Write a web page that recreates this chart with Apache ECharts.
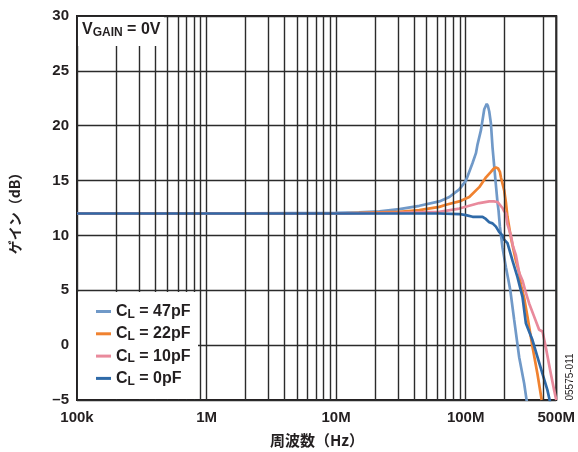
<!DOCTYPE html>
<html>
<head>
<meta charset="utf-8">
<script src="https://cdn.jsdelivr.net/npm/echarts@6/dist/echarts.min.js"></script>
<style>
  html, body { margin: 0; padding: 0; background: #fff; }
  #chart { width: 578px; height: 452px; }
</style>
</head>
<body>
<div id="chart"></div>
<script>
// Frequency axis ticks (Hz) and their labels
const freqTicks = [1e5, 1e6, 1e7, 1e8, 5e8];
const freqTickLabels = ['100k', '1M', '10M', '100M', '500M'];
// Intermediate vertical grid lines (Hz)
const minorGridFreqs = [
  2e5, 3e5, 4e5, 5e5, 6e5, 7e5, 8e5, 9e5,
  2e6, 3e6, 4e6, 5e6, 6e6, 7e6, 8e6, 9e6,
  2e7, 3e7, 4e7, 5e7, 6e7, 7e7, 8e7, 9e7,
  2e8, 4e8
];
// Gain axis range (dB)
const gainMin = -5, gainMax = 30, gainStep = 5;

// Load capacitances (legend entries)
const loads = ['47pF', '22pF', '10pF', '0pF'];
const loadColors = ['#7099c8', '#f08230', '#e98a9c', '#2f6aa8'];

// C_L = 47pF
const freq47 = [1e5, 1e6, 1e7, 1.5e7, 21.6e6, 30.8e6, 43.9e6, 62.6e6, 74.8e6, 89.3e6, 100.5e6, 106.6e6, 113e6, 120e6, 123.5e6, 131.2e6, 139.1e6, 145.4e6, 148.5e6, 152e6, 156.6e6, 161.2e6, 169e6, 176.1e6, 179.2e6, 183.7e6, 192.4e6, 204.4e6, 214e6, 221e6, 236.8e6, 258.8e6, 282.8e6, 296e6];
const gain47 = [12.0, 12.0, 12.05, 12.1, 12.2, 12.4, 12.7, 13.1, 13.5, 14.2, 15.0, 15.8, 16.6, 17.5, 18.3, 19.6, 21.5, 22.0, 21.8, 21.3, 20.2, 18.0, 15.3, 13.0, 12.3, 10.8, 8.9, 7.1, 5.9, 5.0, 2.3, -1.1, -3.5, -5.1];

// C_L = 22pF
const freq22 = [1e5, 1e6, 1e7, 21.6e6, 30.8e6, 43.9e6, 62.6e6, 70.5e6, 89.3e6, 106.6e6, 127.3e6, 143.4e6, 156.6e6, 165e6, 171e6, 174e6, 178e6, 183.7e6, 187e6, 198.3e6, 204.4e6, 210.2e6, 223.4e6, 244.1e6, 258.8e6, 266.7e6, 282.8e6, 299.9e6, 327.7e6, 357.9e6, 386e6];
const gain22 = [12.0, 12.0, 12.0, 12.1, 12.15, 12.3, 12.6, 12.8, 13.1, 13.5, 14.4, 15.3, 15.8, 16.1, 16.2, 16.25, 16.1, 15.8, 15.3, 14.1, 13.0, 11.7, 9.8, 7.7, 6.6, 5.5, 4.3, 2.6, -0.15, -2.6, -5.0];

// C_L = 10pF
const freq10 = [1e5, 1e6, 1e7, 30e6, 62.6e6, 89.3e6, 106.6e6, 127.3e6, 152e6, 165e6, 176e6, 181.5e6, 192.4e6, 198.3e6, 204.4e6, 210.2e6, 223.4e6, 232e6, 244.1e6, 258.8e6, 274.4e6, 287.8e6, 309e6, 337.7e6, 369e6, 378e6, 392e6, 403.3e6, 420.2e6, 454.2e6, 481.6e6, 500e6];
const gain10 = [12.0, 12.0, 12.0, 12.05, 12.15, 12.45, 12.7, 12.95, 13.1, 13.1, 13.05, 12.9, 12.5, 12.2, 12.0, 11.0, 10.0, 9.0, 8.2, 6.6, 5.9, 5.0, 3.8, 2.6, 1.4, 1.3, 1.25, 1.1, -0.5, -2.6, -4.1, -5.0];

// C_L = 0pF
const freq0 = [1e5, 1e6, 1e7, 30e6, 62.6e6, 89.3e6, 100.5e6, 113e6, 134.9e6, 143e6, 152e6, 161.2e6, 171.2e6, 181.5e6, 192.4e6, 198.3e6, 210.2e6, 229.8e6, 251.1e6, 274.4e6, 291.4e6, 327.7e6, 357.9e6, 391.3e6, 427.6e6, 440.7e6, 450e6];
const gain0 = [12.0, 12.0, 12.0, 12.0, 12.0, 11.95, 11.85, 11.7, 11.7, 11.5, 11.2, 11.1, 10.8, 10.3, 10.0, 9.6, 9.3, 7.7, 6.2, 4.4, 2.0, 0.46, -1.07, -2.6, -4.1, -4.8, -5.3];

const seriesFreqs = [freq47, freq22, freq10, freq0];
const seriesGains = [gain47, gain22, gain10, gain0];

const gridColor = '#2b2b2b';
const textColor = '#231f20';
const latin = 'Liberation Sans, Arial, Helvetica, sans-serif';
const cjk = '"Noto Sans CJK JP", "Noto Sans CJK SC", sans-serif';

const chart = echarts.init(document.getElementById('chart'), null, { renderer: 'canvas' });

function tickLabel(v) {
  for (let i = 0; i < freqTicks.length; i++) {
    if (Math.abs(Math.log10(v) - Math.log10(freqTicks[i])) < 0.01) return freqTickLabels[i];
  }
  return '';
}

const names = loads.map(l => 'CL = ' + l);

const curveSeries = names.map((name, i) => ({
  name: name,
  type: 'line',
  showSymbol: false,
  symbol: 'none',
  clip: true,
  z: 3,
  lineStyle: { color: loadColors[i], width: 2.7 },
  itemStyle: { color: loadColors[i] },
  data: seriesFreqs[i].map((f, k) => [f, seriesGains[i][k]])
}));

const option = {
  animation: false,
  backgroundColor: '#fff',
  grid: {
    left: 77, right: 21, top: 16, bottom: 52,
    show: true, borderColor: textColor, borderWidth: 2, backgroundColor: '#fff'
  },
  xAxis: {
    type: 'log',
    logBase: 10,
    min: freqTicks[0],
    max: freqTicks[freqTicks.length - 1],
    axisLine: { show: false },
    axisTick: { show: false },
    splitLine: { show: true, lineStyle: { color: gridColor, width: 1.4 } },
    axisLabel: {
      formatter: tickLabel,
      showMinLabel: true, showMaxLabel: true,
      margin: 10,
      color: textColor, fontFamily: latin, fontWeight: 'bold', fontSize: 15
    }
  },
  yAxis: {
    type: 'value',
    min: gainMin, max: gainMax, interval: gainStep,
    axisLine: { show: false },
    axisTick: { show: false },
    splitLine: { show: true, lineStyle: { color: gridColor, width: 1.4 } },
    axisLabel: {
      margin: 8,
      formatter: v => String(v).replace('-', '\u2013'),
      color: textColor, fontFamily: latin, fontWeight: 'bold', fontSize: 15
    }
  },
  legend: {
    data: names,
    orient: 'vertical',
    left: 78, top: 292,
    z: 300,
    padding: [11.5, 4, 8, 18],
    itemGap: 5.3,
    itemWidth: 15, itemHeight: 3,
    icon: 'rect',
    selectedMode: false,
    formatter: function (name) {
      const rest = name.slice(2);
      return '{c|C}{s|L}{c|' + rest + '}';
    },
    textStyle: {
      color: textColor,
      rich: {
        c: { fontFamily: latin, fontWeight: 'bold', fontSize: 16, lineHeight: 18, color: textColor },
        s: { fontFamily: latin, fontWeight: 'bold', fontSize: 12, lineHeight: 12, verticalAlign: 'bottom', color: textColor }
      }
    }
  },
  graphic: [
    // white panels behind the gain label and the legend
    { type: 'rect', z: 100, shape: { x: 78, y: 17, width: 86, height: 29 }, style: { fill: '#fff' } },
    { type: 'rect', z: 100, shape: { x: 78, y: 292, width: 120, height: 107 }, style: { fill: '#fff' } },
    {
      type: 'text', z: 101, x: 82, y: 21,
      style: {
        text: '{v|V}{s|GAIN}{v| = 0V}',
        rich: {
          v: { fontFamily: latin, fontWeight: 'bold', fontSize: 16, lineHeight: 18, fill: textColor },
          s: { fontFamily: latin, fontWeight: 'bold', fontSize: 12, lineHeight: 12, verticalAlign: 'bottom', fill: textColor }
        }
      }
    },
    {
      type: 'text', z: 101, x: 15, y: 210, rotation: Math.PI / 2,
      style: {
        text: 'ゲイン（dB）', fill: textColor,
        font: 'bold 14px ' + cjk,
        align: 'center', verticalAlign: 'middle'
      }
    },
    {
      type: 'text', z: 101, x: 317, y: 440,
      style: {
        text: '周波数（Hz）', fill: textColor,
        font: 'bold 15px ' + cjk,
        align: 'center', verticalAlign: 'middle'
      }
    },
    {
      type: 'text', z: 101, x: 570, y: 377, rotation: Math.PI / 2,
      style: {
        text: '05575-011', fill: textColor,
        font: '10px ' + latin,
        align: 'center', verticalAlign: 'middle'
      }
    }
  ],
  series: [
    {
      name: 'grid-minor',
      type: 'line',
      data: [],
      z: 1,
      silent: true,
      markLine: {
        silent: true,
        symbol: ['none', 'none'],
        label: { show: false },
        emphasis: { disabled: true },
        lineStyle: { color: gridColor, width: 1.4, type: 'solid' },
        data: minorGridFreqs.map(v => ({ xAxis: v }))
      }
    }
  ].concat(curveSeries)
};

chart.setOption(option);
</script>
</body>
</html>
